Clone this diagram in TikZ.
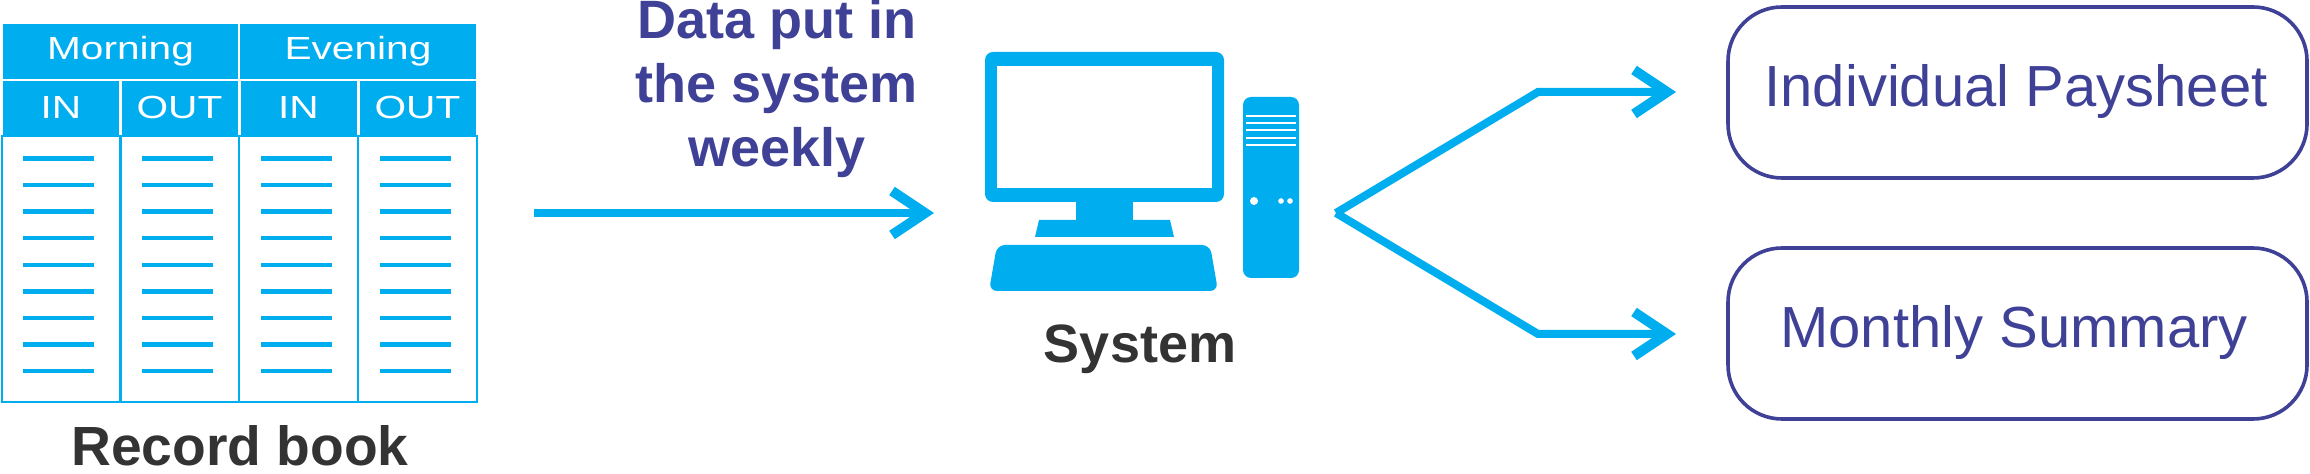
\documentclass[tikz,border=0pt]{standalone}
\usepackage{fontspec}
\setmainfont{Liberation Sans}
\usetikzlibrary{arrows.meta}
\definecolor{sysblue}{HTML}{00AEEF}
\definecolor{sysviolet}{HTML}{3F4197}
\definecolor{sysdark}{HTML}{333333}
\tikzset{%
    headcell/.style={
      rectangle,
      fill=sysblue,
      text=white,
      inner sep=0pt,
      font=\fontsize{16}{16}\selectfont
    },
    bodycell/.style={
      rectangle,
      draw=sysblue,
      line width=1pt,
      inner sep=0pt,
      minimum width=59.5pt,
      minimum height=133pt
    },
    result/.style={
      rectangle,
      draw=sysviolet,
      line width=1.8pt,
      rounded corners=27pt,
      text=sysviolet,
      minimum width=289.5pt,
      minimum height=85.5pt,
      font=\fontsize{29}{29}\selectfont
    },
    caption/.style={
      text=sysdark,
      inner sep=0pt,
      font=\fontsize{27}{27}\selectfont\bfseries
    },
    flow/.style={
      draw=sysblue,
      line width=4pt,
      line join=miter,
      -{Straight Barb[length=16.5pt,width=22pt,line width=5pt]}
    }
  }
\newcommand{\wide}[1]{\scalebox{1.27}[1]{#1}}

\begin{document}
\begin{tikzpicture}[x=0.5pt, y=-0.5pt]
      \useasboundingbox (0,0) rectangle (2310,474);

      \node [headcell, minimum width=117.5pt, minimum height=27.5pt, text height=8.5pt, text depth=0pt] (morning) at (120.5,51.5) {\wide{Morning}};
      \node [headcell, minimum width=118pt, minimum height=27.5pt, text height=8.5pt, text depth=0pt] (evening) at (358,51.5) {\wide{Evening}};

      \node [headcell, minimum width=58pt, minimum height=27pt, text height=11pt, text depth=0pt] (in1) at (61,108) {\wide{IN}};
      \node [headcell, minimum width=58pt, minimum height=27pt, text height=11pt, text depth=0pt] (out1) at (179.5,108) {\wide{OUT}};
      \node [headcell, minimum width=58pt, minimum height=27pt, text height=11pt, text depth=0pt] (in2) at (298.5,108) {\wide{IN}};
      \node [headcell, minimum width=58pt, minimum height=27pt, text height=11pt, text depth=0pt] (out2) at (417.5,108) {\wide{OUT}};

      \foreach \col/\x in {1/61, 2/179.5, 3/298.5, 4/417.5} {
        \node [bodycell] (body\col) at (\x,269) {};
        \foreach \row in {0,...,8} {
          \fill [sysblue] (\x-38,156.3+26.6*\row) rectangle (\x+33,160.7+26.6*\row);
        }
      }

      \node [caption, anchor=base, font=\fontsize{27.6}{27.6}\selectfont\bfseries] (book) at (240,466) {Record book};

      \node [text=sysviolet, align=center, inner sep=0pt, font=\fontsize{27}{32}\selectfont\bfseries] (weekly) at (777,89) {Data put in\\the system\\weekly};

      \coordinate (datafrom) at (534,213);
      \coordinate (datato) at (934,213);
      \draw [flow] (datafrom) -- (datato);

      \fill [sysblue, rounded corners=4pt] (985,52) rectangle (1224,202);
      \fill [white] (997,66) rectangle (1212,188);
      \fill [sysblue] (1076,200) rectangle (1133,221);
      \fill [sysblue] (1039,220) -- (1170,220) -- (1174,237) -- (1035,237) -- cycle;
      \fill [sysblue, rounded corners=4pt] (997,245) -- (1210,245) -- (1218,291) -- (989,291) -- cycle;

      \fill [sysblue, rounded corners=4pt] (1243,97) rectangle (1299,278);
      \foreach \y in {116,123,130,138,145} {
        \fill [white] (1246,\y-0.9) rectangle (1296,\y+0.9);
      }
      \fill [white] (1254,201) circle (4);
      \fill [white] (1281,201) circle (2.8);
      \fill [white] (1290,201) circle (2.8);

      \node [caption, anchor=base] (system) at (1140,363) {System};

      \node [result] (paysheet) at (2017.5,92.5) {};
      \node [result] (summary) at (2017.5,333.5) {};
      \node [text=sysviolet, inner sep=0pt, anchor=base, font=\fontsize{29}{29}\selectfont] (paysheettext) at (2016,107) {Individual Paysheet};
      \node [text=sysviolet, inner sep=0pt, anchor=base, font=\fontsize{29}{29}\selectfont] (summarytext) at (2014,348) {Monthly Summary};

      \coordinate (fork) at (1336,213);
      \coordinate (kneeup) at (1538,92);
      \coordinate (kneedown) at (1538,334);
      \coordinate (toup) at (1676,92);
      \coordinate (todown) at (1676,334);
      \draw [flow] (fork) -- (kneeup) -- (toup);
      \draw [flow] (fork) -- (kneedown) -- (todown);

    \end{tikzpicture}
\end{document}
